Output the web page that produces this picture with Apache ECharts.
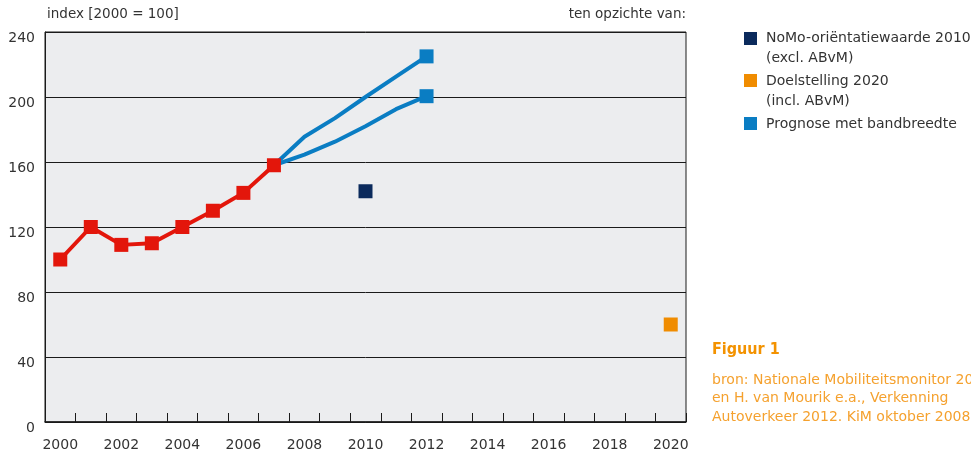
<!DOCTYPE html>
<html>
<head>
<meta charset="utf-8">
<script src="https://cdn.jsdelivr.net/npm/echarts@6/dist/echarts.min.js"></script>
<style>
html,body{margin:0;padding:0;background:#fff;}
#c{width:971px;height:453px;}
</style>
</head>
<body>
<div id="c"></div>
<script>
var years = ['2000','2001','2002','2003','2004','2005','2006','2007','2008','2009','2010','2011','2012','2013','2014','2015','2016','2017','2018','2019','2020'];
var realised = [100, 120, 109, 110, 120, 130, 141, 158];
var prognoseHigh = [null, null, null, null, null, null, null, 158, 175.5, 187, 200, 212.5, 225];
var prognoseLow = [null, null, null, null, null, null, null, 158, 164.5, 172.5, 182, 192.5, 200.5];
var nomo2010 = {year: '2010', value: 142};
var doel2020 = {year: '2020', value: 60};
var yTicks = [0, 40, 80, 120, 160, 200, 240];

var FONT = 'DejaVu Sans';
var TXT = '#333333';
var RED = '#E3160B';
var BLUE = '#0A7DC3';
var NAVY = '#0B2A5C';
var ORANGE = '#F08C00';
var INK = '#1a1a1a';

function endMarked(arr) {
  var last = -1;
  arr.forEach(function (v, i) { if (v != null) last = i; });
  return arr.map(function (v, i) {
    return {value: v, symbol: i === last ? 'rect' : 'none', symbolSize: 14};
  });
}

var chart = echarts.init(document.getElementById('c'), null, {renderer: 'canvas'});
chart.setOption({
  animation: false,
  backgroundColor: '#ffffff',
  textStyle: {fontFamily: FONT},
  grid: {left: 45, right: 285, top: 32, bottom: 31, show: true, backgroundColor: '#ECEDEF', borderColor: INK, borderWidth: 1},
  xAxis: {
    type: 'category',
    data: years,
    boundaryGap: true,
    axisLine: {lineStyle: {color: INK, width: 1.5}},
    axisTick: {
      show: true, inside: true, length: 9,
      interval: function (i) { return i > 0 && i < years.length; },
      lineStyle: {color: INK, width: 1}
    },
    axisLabel: {interval: 1, color: TXT, fontSize: 14, fontFamily: FONT, margin: 16},
    splitLine: {show: false}
  },
  yAxis: {
    type: 'value',
    min: yTicks[0],
    max: yTicks[yTicks.length - 1],
    interval: 40,
    axisLine: {show: true, lineStyle: {color: INK, width: 1}},
    axisTick: {show: false},
    axisLabel: {color: TXT, fontSize: 14, fontFamily: FONT, margin: 10, verticalAlign: 'top', lineHeight: 12},
    splitLine: {lineStyle: {color: INK, width: 1}}
  },
  series: [
    {
      name: 'Prognose met bandbreedte',
      type: 'line',
      data: endMarked(prognoseHigh),
      symbol: 'rect',
      showAllSymbol: true,
      connectNulls: false,
      lineStyle: {color: BLUE, width: 4},
      itemStyle: {color: BLUE, opacity: 1},
      z: 2
    },
    {
      name: 'Prognose laag',
      type: 'line',
      data: endMarked(prognoseLow),
      symbol: 'rect',
      showAllSymbol: true,
      lineStyle: {color: BLUE, width: 4},
      itemStyle: {color: BLUE, opacity: 1},
      z: 2
    },
    {
      name: 'Gerealiseerd',
      type: 'line',
      data: realised,
      symbol: 'rect',
      symbolSize: 14,
      showAllSymbol: true,
      lineStyle: {color: RED, width: 4},
      itemStyle: {color: RED, opacity: 1},
      z: 3
    },
    {
      name: 'NoMo-oriëntatiewaarde 2010 (excl. ABvM)',
      type: 'scatter',
      symbol: 'rect',
      symbolSize: 14,
      data: [[nomo2010.year, nomo2010.value]],
      itemStyle: {color: NAVY, opacity: 1},
      z: 3
    },
    {
      name: 'Doelstelling 2020 (incl. ABvM)',
      type: 'scatter',
      symbol: 'rect',
      symbolSize: 14,
      data: [[doel2020.year, doel2020.value]],
      itemStyle: {color: ORANGE, opacity: 1},
      z: 3
    }
  ],
  graphic: [
    {type: 'rect', z: 100, shape: {x: 684.5, y: 423.5, width: 3.5, height: 10}, style: {fill: '#ffffff'}},
    {type: 'text', left: 47, top: 7, style: {text: 'index [2000 = 100]', fill: TXT, font: '13.5px "DejaVu Sans"'}},
    {type: 'text', right: 285, top: 7, style: {text: 'ten opzichte van:', fill: TXT, font: '13.5px "DejaVu Sans"'}},
    {type: 'rect', shape: {x: 744, y: 32, width: 13, height: 13}, style: {fill: NAVY}},
    {type: 'text', left: 766, top: 28, style: {text: 'NoMo-oriëntatiewaarde 2010\n(excl. ABvM)', fill: TXT, font: '14px "DejaVu Sans"', lineHeight: 20}},
    {type: 'rect', shape: {x: 744, y: 74, width: 13, height: 13}, style: {fill: ORANGE}},
    {type: 'text', left: 766, top: 71, style: {text: 'Doelstelling 2020\n(incl. ABvM)', fill: TXT, font: '14px "DejaVu Sans"', lineHeight: 20}},
    {type: 'rect', shape: {x: 744, y: 117, width: 13, height: 13}, style: {fill: BLUE}},
    {type: 'text', left: 766, top: 114, style: {text: 'Prognose met bandbreedte', fill: TXT, font: '14px "DejaVu Sans"', lineHeight: 20}},
    {type: 'text', left: 712, top: 342, style: {text: 'Figuur 1', fill: '#F39200', font: 'bold 16px "DejaVu Sans Condensed", "DejaVu Sans"'}},
    {type: 'text', left: 712, top: 371, style: {text: 'bron: Nationale Mobiliteitsmonitor 2008\nen H. van Mourik e.a., Verkenning\nAutoverkeer 2012. KiM oktober 2008', fill: '#F5A12E', font: '14px "DejaVu Sans"', lineHeight: 18.5}}
  ]
});
</script>
</body>
</html>
